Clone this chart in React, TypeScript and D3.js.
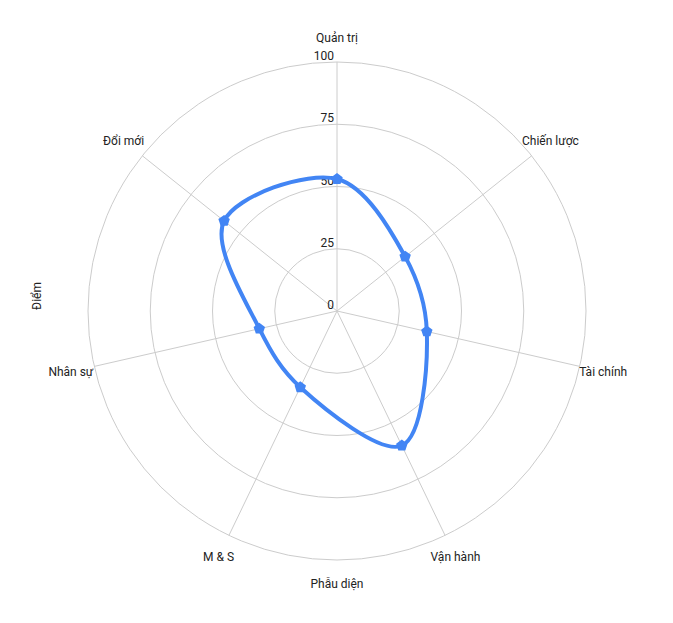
import React from "react";
import * as d3 from "d3";

const categories = ["Quản trị", "Chiến lược", "Tài chính", "Vận hành", "M & S", "Nhân sự", "Đổi mới"];
const scores = [53, 35, 37, 60, 34, 32, 58];
const tickValues = [0, 25, 50, 75, 100];
const xTitle = "Phẫu diện";
const yTitle = "Điểm";

const W = 673;
const H = 623;
const cx = 337;
const cy = 311;
const R = 249;
const FONT = "Roboto, 'Noto Sans', Arial, sans-serif";

export default function App() {
  const r = d3.scaleLinear().domain([0, 100]).range([0, R]);
  const angle = d3
    .scalePoint<string>()
    .domain(categories)
    .range([0, (2 * Math.PI * (categories.length - 1)) / categories.length]);

  const pt = (a: number, rad: number): [number, number] => [
    cx + rad * Math.sin(a),
    cy - rad * Math.cos(a),
  ];

  const pts = categories.map((c, i) => pt(angle(c)!, r(scores[i])));
  const line = d3.line().curve(d3.curveCatmullRomClosed.alpha(0.5));
  const pathD = line(pts) || "";

  const pentagon = (x: number, y: number, s: number) => {
    const p: string[] = [];
    for (let k = 0; k < 5; k++) {
      const a = (k * 2 * Math.PI) / 5;
      p.push(`${x + s * Math.sin(a)},${y - s * Math.cos(a)}`);
    }
    return p.join(" ");
  };

  return (
    <svg
      width={W}
      height={H}
      style={{ position: "absolute", left: 0, top: 0, background: "#fff" }}
      fontFamily={FONT}
    >
      <rect width={W} height={H} fill="#fff" />
      {tickValues
        .filter((t) => t > 0)
        .map((t) => (
          <circle key={t} cx={cx} cy={cy} r={r(t)} fill="none" stroke="#cccccc" strokeWidth={1} />
        ))}
      {categories.map((c) => {
        const [x, y] = pt(angle(c)!, R);
        return <line key={c} x1={cx} y1={cy} x2={x} y2={y} stroke="#cccccc" strokeWidth={1} />;
      })}
      {tickValues.map((t) => (
        <text
          key={t}
          x={cx - 3}
          y={cy - r(t) - 2}
          textAnchor="end"
          fontSize={12}
          fill="#222"
        >
          {t}
        </text>
      ))}
      {categories.map((c) => {
        const [x, y] = pt(angle(c)!, R + 24);
        return (
          <text key={c} x={x} y={y} dy="0.35em" textAnchor="middle" fontSize={12} fill="#222">
            {c}
          </text>
        );
      })}
      <text x={cx} y={588} textAnchor="middle" fontSize={12} fill="#222">
        {xTitle}
      </text>
      <text
        transform={`translate(41,296) rotate(-90)`}
        textAnchor="middle"
        fontSize={12}
        fill="#222"
      >
        {yTitle}
      </text>
      <path d={pathD} fill="none" stroke="#4285f4" strokeWidth={4} />
      {pts.map(([x, y], i) => (
        <polygon key={i} points={pentagon(x, y, 6)} fill="#4285f4" />
      ))}
    </svg>
  );
}
